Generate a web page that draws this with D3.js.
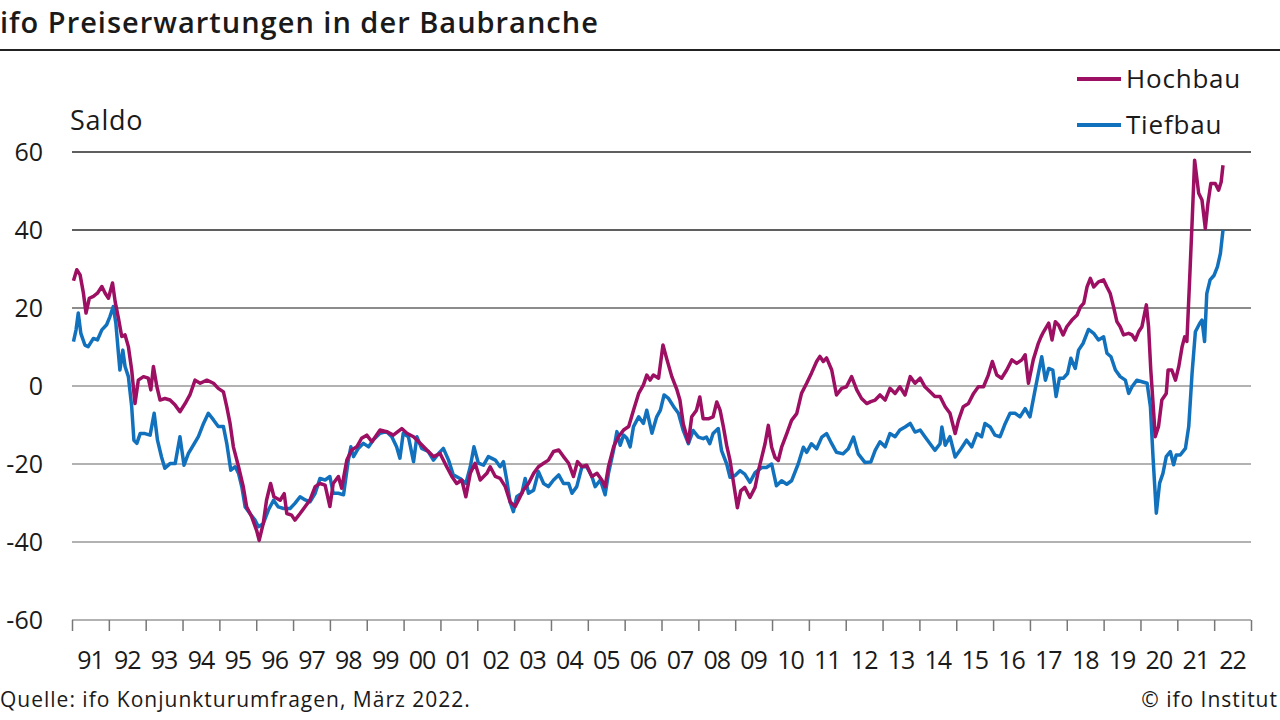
<!DOCTYPE html>
<html lang="de">
<head>
<meta charset="utf-8">
<title>ifo Preiserwartungen in der Baubranche</title>
<script src="https://cdn.jsdelivr.net/npm/d3@7"></script>
<style>
    html, body { margin: 0; padding: 0; background: #fff; }
    svg { display: block; font-family: 'Open Sans', 'Noto Sans', sans-serif; }
</style>
</head>
<body>
<svg id="chart" width="1280" height="720"></svg>
<script>
// Saldo values, decimal years
const hochYears = [
    1991.04, 1991.13, 1991.22, 1991.31, 1991.38, 1991.47, 1991.58, 1991.69, 1991.81, 1991.90, 1991.99,
    1992.10, 1992.17, 1992.26, 1992.35, 1992.44, 1992.53, 1992.62, 1992.71, 1992.80, 1992.94,
    1993.07, 1993.14, 1993.21, 1993.30, 1993.39, 1993.52, 1993.66, 1993.80, 1993.93,
    1994.07, 1994.20, 1994.34, 1994.48, 1994.66, 1994.84, 1994.97,
    1995.11, 1995.20, 1995.29, 1995.38, 1995.52, 1995.65, 1995.74, 1995.88,
    1996.01, 1996.08, 1996.19, 1996.28, 1996.39, 1996.48, 1996.65, 1996.76, 1996.83, 1996.96,
    1997.05, 1997.19, 1997.33, 1997.46, 1997.60, 1997.73, 1997.87,
    1998.00, 1998.09, 1998.23, 1998.32, 1998.46, 1998.59, 1998.73, 1998.86,
    1999.00, 1999.14, 1999.36, 1999.54, 1999.72, 1999.95,
    2000.09, 2000.27, 2000.45, 2000.63, 2000.81, 2000.99,
    2001.17, 2001.31, 2001.44, 2001.58, 2001.69, 2001.81, 2001.94,
    2002.08, 2002.26, 2002.35, 2002.49, 2002.62, 2002.76, 2002.89,
    2003.03, 2003.12, 2003.25, 2003.39, 2003.53, 2003.66, 2003.80, 2003.93,
    2004.07, 2004.21, 2004.34, 2004.48, 2004.61, 2004.72, 2004.84, 2004.97,
    2005.11, 2005.25, 2005.38, 2005.47, 2005.56, 2005.70, 2005.83, 2005.97,
    2006.11, 2006.24, 2006.38, 2006.51, 2006.60, 2006.69, 2006.78, 2006.92,
    2007.04, 2007.15, 2007.28, 2007.42, 2007.50, 2007.59, 2007.73, 2007.82, 2007.95,
    2008.04, 2008.13, 2008.27, 2008.40, 2008.50, 2008.59, 2008.68, 2008.77, 2008.86, 2008.95,
    2009.06, 2009.15, 2009.26, 2009.40, 2009.54, 2009.63, 2009.72, 2009.81, 2009.90, 2009.99,
    2010.08, 2010.17, 2010.26, 2010.40, 2010.53, 2010.67, 2010.80, 2010.94,
    2011.07, 2011.21, 2011.30, 2011.39, 2011.48, 2011.62, 2011.75, 2011.89,
    2012.02, 2012.16, 2012.30, 2012.43, 2012.57, 2012.68, 2012.80, 2012.93,
    2013.07, 2013.20, 2013.34, 2013.47, 2013.61, 2013.75, 2013.88,
    2014.02, 2014.15, 2014.29, 2014.42, 2014.56, 2014.70, 2014.83, 2014.97,
    2015.06, 2015.19, 2015.33, 2015.47, 2015.60, 2015.74, 2015.87, 2015.98,
    2016.10, 2016.23, 2016.37, 2016.51, 2016.64, 2016.78, 2016.87, 2016.96,
    2017.09, 2017.23, 2017.30, 2017.37, 2017.51, 2017.60, 2017.69, 2017.78, 2017.90,
    2018.00, 2018.14, 2018.28, 2018.37, 2018.46, 2018.55, 2018.64, 2018.73, 2018.86,
    2019.00, 2019.09, 2019.18, 2019.27, 2019.36, 2019.45, 2019.54, 2019.68, 2019.77, 2019.86, 2019.95,
    2020.04, 2020.16, 2020.22, 2020.28, 2020.36, 2020.40, 2020.49, 2020.58, 2020.70, 2020.75, 2020.85, 2020.95,
    2021.04, 2021.13, 2021.20, 2021.26, 2021.33, 2021.40, 2021.47, 2021.58, 2021.67, 2021.76, 2021.83, 2021.91,
    2022.03, 2022.12, 2022.19, 2022.24
]
const hochValues = [
    27, 29.8, 28.5, 23.8, 18.7, 22.5, 23, 23.8, 25.5, 23.8, 22.5,
    26.4, 21.7, 17.4, 12.7, 13.1, 10.1, 4.1, -4.5, 1.5, 2.4,
    2, -1, 5, 0, -3.6, -3.2, -3.6, -4.9, -6.6,
    -4.5, -2.3, 1.5, 0.7, 1.5, 0.7, -0.6,
    -1.5, -5.3, -9.6, -15.6, -20.7, -25.9, -31, -33.6,
    -37, -39.6, -35.3, -29.3, -25, -28.4, -29.3, -27.6, -32.7, -33.1,
    -34.4, -32.7, -30.9, -29.2, -25.8, -25, -25.4,
    -30.9, -25, -23.2, -26.2, -19, -16.4, -15.6, -13.4,
    -12.6, -14.3, -11.3, -11.7, -12.6, -10.9,
    -12.1, -13, -14.7, -16.4, -18.1, -17.3,
    -20.7, -23.2, -25, -24.1, -28.4, -22.4, -19.8,
    -24.1, -22.4, -20.7, -23.2, -23.7, -25.8, -29.7,
    -30.9, -29.2, -26.7, -25, -22.4, -20.7, -19.8, -19,
    -16.8, -16.4, -18.1, -19.8, -23.2, -19.4, -20.7, -20.3,
    -23.2, -22.4, -24.1, -25.8, -20.7, -15.6, -13, -11.3,
    -10.4, -6.2, -1.9, 0.3, 2.8, 1.5, 2.8, 2,
    10.5, 6.7, 2.4, -1, -3.6, -9.7, -14.4, -7.9, -6.2,
    -2.8, -8.4, -8.4, -7.9, -4.1, -6.2, -10.5, -15.3, -19.1, -24.5,
    -31.2, -26.9, -26, -28.6, -26, -21.7, -18.3, -14.8, -10.1, -15.7,
    -18.3, -19.1, -15.7, -12.2, -8.8, -7.1, -1.9, 0.7,
    3.3, 6.3, 7.6, 6.3, 7.2, 4.1, -2.3, -0.6,
    -0.2, 2.4, -1, -3.2, -4.5, -4, -3.6, -2.3,
    -3.6, -0.6, -1.9, -0.2, -2.3, 2.4, 0.7,
    2, -0.2, -1.5, -2.7, -2.7, -5.3, -7, -12.2,
    -8.8, -5.3, -4.5, -1.9, -0.2, -0.2, 2.8, 6.3,
    2.8, 2, 4.1, 6.7, 5.8, 6.7, 8, 0.7,
    6.7, 11, 12.6, 13.9, 16.1, 11.8, 16.5, 15.6, 13.1,
    15.2, 16.9, 18.2, 20.3, 21.2, 25.4, 27.6, 25.4, 26.7,
    27.2, 25.4, 23.7, 20.3, 16.5, 15.2, 13.1, 13.5, 13.1, 11.8, 13.9,
    15.2, 20.8, 15.2, 4.1, -7, -13, -10.4, -3.6, -1.9, 4.1, 4.1, 1.5,
    5, 10.1, 12.6, 11.4, 26.3, 41.7, 57.9, 49.4, 47.7, 40.4, 46.8, 51.9,
    51.9, 50.2, 52.3, 56.6
]

const tiefYears = [
    1991.04, 1991.11, 1991.17, 1991.24, 1991.35, 1991.44, 1991.58, 1991.69, 1991.81, 1991.94,
    1992.03, 1992.12, 1992.19, 1992.26, 1992.30, 1992.38, 1992.44, 1992.53, 1992.62, 1992.68, 1992.76, 1992.85, 1992.98,
    1993.12, 1993.23, 1993.32, 1993.43, 1993.52, 1993.66, 1993.80, 1993.93,
    1994.04, 1994.16, 1994.29, 1994.43, 1994.57, 1994.70, 1994.84, 1994.97,
    1995.11, 1995.20, 1995.31, 1995.43, 1995.52, 1995.61, 1995.70, 1995.83, 1995.97,
    1996.06, 1996.19, 1996.33, 1996.47, 1996.60, 1996.74, 1996.92,
    1997.05, 1997.19, 1997.33, 1997.46, 1997.60, 1997.73, 1997.87,
    1998.00, 1998.09, 1998.23, 1998.37, 1998.50, 1998.57, 1998.64, 1998.77, 1998.91,
    1999.05, 1999.18, 1999.36, 1999.54, 1999.68, 1999.81, 1999.90, 1999.99,
    2000.13, 2000.27, 2000.36, 2000.49, 2000.67, 2000.81, 2000.95,
    2001.08, 2001.22, 2001.35, 2001.53, 2001.69, 2001.81, 2001.91,
    2002.03, 2002.17, 2002.30, 2002.49, 2002.62, 2002.71, 2002.80, 2002.89, 2002.98,
    2003.07, 2003.21, 2003.30, 2003.39, 2003.53, 2003.66, 2003.80, 2003.93,
    2004.07, 2004.21, 2004.34, 2004.48, 2004.57, 2004.70, 2004.84, 2004.97,
    2005.11, 2005.20, 2005.34, 2005.47, 2005.56, 2005.70, 2005.79, 2005.88, 2005.97,
    2006.06, 2006.15, 2006.24, 2006.38, 2006.51, 2006.60, 2006.74, 2006.87, 2006.97,
    2007.07, 2007.19, 2007.33, 2007.46, 2007.59, 2007.73, 2007.86,
    2008.00, 2008.13, 2008.22, 2008.31, 2008.40, 2008.54, 2008.63, 2008.77, 2008.86, 2008.99,
    2009.13, 2009.26, 2009.40, 2009.54, 2009.72, 2009.85, 2009.99,
    2010.12, 2010.26, 2010.40, 2010.53, 2010.71, 2010.85, 2010.94,
    2011.07, 2011.21, 2011.35, 2011.48, 2011.62, 2011.75, 2011.93,
    2012.07, 2012.21, 2012.34, 2012.52, 2012.68, 2012.80, 2012.93,
    2013.07, 2013.20, 2013.34, 2013.47, 2013.61, 2013.75, 2013.88,
    2014.02, 2014.15, 2014.29, 2014.42, 2014.56, 2014.61, 2014.70, 2014.83, 2014.97,
    2015.10, 2015.28, 2015.42, 2015.56, 2015.69, 2015.78, 2015.92,
    2016.05, 2016.19, 2016.33, 2016.46, 2016.60, 2016.73, 2016.87,
    2017.00, 2017.14, 2017.23, 2017.32, 2017.42, 2017.51, 2017.62, 2017.71, 2017.80, 2017.91,
    2018.02, 2018.11, 2018.23, 2018.32, 2018.44, 2018.59, 2018.73, 2018.86,
    2019.00, 2019.09, 2019.20, 2019.32, 2019.45, 2019.59, 2019.68, 2019.77, 2019.90,
    2020.04, 2020.18, 2020.27, 2020.34, 2020.43, 2020.52, 2020.61, 2020.70, 2020.81, 2020.90, 2020.97,
    2021.08, 2021.22, 2021.31, 2021.40, 2021.49, 2021.61, 2021.67, 2021.74, 2021.80, 2021.89,
    2022.00, 2022.09, 2022.17, 2022.24
]
const tiefValues = [
    11.4, 14.4, 18.7, 13.5, 10.5, 10.1, 12.2, 11.8, 14.4, 15.7,
    17.8, 20.4, 16.1, 8.4, 4.1, 9.2, 5, 2.4, -5.3, -13.9, -14.7, -12.2, -12.2,
    -12.6, -7, -13.9, -18.2, -21.1, -19.9, -19.9, -13,
    -20.3, -17.3, -15.2, -13, -9.6, -7, -8.7, -10.4,
    -10.4, -14.7, -21.6, -20.7, -22.4, -25.9, -31, -32.7, -34.4,
    -36.1, -35.3, -31.8, -29.3, -31, -31.4, -31.4,
    -30.1, -28.4, -29.2, -29.7, -27.5, -23.7, -24.1,
    -23.2, -27.5, -27.5, -27.9, -19, -15.6, -18.1, -16, -14.7,
    -15.6, -13.8, -12.1, -11.7, -13, -15.6, -18.5, -12.1,
    -13, -19.4, -13, -16, -16.8, -19, -17.3,
    -16, -19, -22.8, -23.7, -25, -20.7, -15.6,
    -19.8, -20.3, -18.1, -19, -20.7, -19.4, -24.1, -29.7, -32.2,
    -28.4, -27.5, -23.7, -27.5, -26.7, -22, -25, -25.8,
    -24.1, -22.8, -25, -25, -27.5, -25.8, -20.7, -20.7,
    -23.2, -25.8, -24.1, -27.9, -22.4, -16.4, -11.7, -15.2, -12.6,
    -13.4, -15.6, -10.4, -7.9, -9.6, -6.2, -12.1, -7.9, -6.2,
    -2.3, -3.2, -5.3, -7, -11.4, -14.8, -11.4,
    -13.1, -13.5, -13.1, -14.8, -12.2, -10.9, -16.6, -20, -23.4, -23,
    -21.7, -22.6, -24.7, -22.2, -20.9, -20.9, -20,
    -25.6, -24.3, -25.2, -24.3, -20, -15.7, -17,
    -14.8, -16.1, -13.1, -12.2, -14.8, -17, -17.4,
    -16.1, -13.1, -17.4, -19.6, -19.5, -16.5, -14.3,
    -15.6, -12.2, -13, -11.3, -10.5, -9.6, -11.8,
    -11.3, -13, -14.8, -16.5, -14.8, -10.5, -15.2, -13, -18.2,
    -16.5, -13.9, -15.6, -12.2, -13, -9.6, -10.5,
    -12.6, -13, -9.6, -7, -7, -7.9, -5.8,
    -7.9, -1, 3.3, 7.5, 1.5, 4.5, 4.1, -2.7, 2, 2,
    3.2, 7.1, 4.5, 9.2, 10.9, 14.5, 13.5, 11.8,
    12.6, 8.4, 7.5, 4.1, 2.4, 1.5, -1.9, -0.2, 1.5,
    1.1, 0.7, -5.3, -18.1, -32.6, -24.9, -22.4, -18.1, -16.8, -20.2, -17.7,
    -17.7, -16, -10.4, 3.2, 13.9, 16.1, 16.9, 11.4, 23.7, 27.2,
    28.4, 30.6, 34, 40
]

const yearTicks = d3.range(1991, 2024)
const yearLabels = ['91', '92', '93', '94', '95', '96', '97', '98', '99', '00', '01', '02', '03', '04', '05', '06',
    '07', '08', '09', '10', '11', '12', '13', '14', '15', '16', '17', '18', '19', '20', '21', '22']
const valueTicks = [-60, -40, -20, 0, 20, 40, 60]

const colours = {
    hochbau: '#9c0f62',
    tiefbau: '#1271bd',
    text: '#1a1a1a'
}

const svg = d3.select('#chart')

const margin = { left: 72, right: 1251, top: 152, bottom: 620 }

const x = d3.scaleLinear()
    .domain([1991, 2023])
    .range([margin.left, margin.right])

const y = d3.scaleLinear()
    .domain([-60, 60])
    .range([margin.bottom, margin.top])

// title and rule
svg.append('text')
    .attr('x', 0)
    .attr('y', 33)
    .attr('fill', colours.text)
    .style('font-size', '29px')
    .style('font-weight', 600)
    .style('letter-spacing', '1px')
    .text('ifo Preiserwartungen in der Baubranche')

svg.append('line')
    .attr('x1', 0)
    .attr('x2', 1280)
    .attr('y1', 50)
    .attr('y2', 50)
    .attr('stroke', '#222')
    .attr('stroke-width', 2)

svg.append('text')
    .attr('x', 70)
    .attr('y', 130)
    .attr('fill', colours.text)
    .style('font-size', '27px')
    .style('letter-spacing', '0.8px')
    .text('Saldo')

// horizontal grid
const gridColour = v => v >= 40 ? '#2a2a2a' : (v === 20 ? '#666' : '#999')

svg.append('g')
    .selectAll('line')
    .data(valueTicks)
    .join('line')
    .attr('x1', margin.left)
    .attr('x2', margin.right)
    .attr('y1', d => y(d))
    .attr('y2', d => y(d))
    .attr('stroke', d => gridColour(d))
    .attr('stroke-width', 1.5)

svg.append('g')
    .selectAll('text')
    .data(valueTicks)
    .join('text')
    .attr('x', 43)
    .attr('y', d => y(d))
    .attr('dy', '0.35em')
    .attr('fill', colours.text)
    .style('font-size', '25px')
    .style('text-anchor', 'end')
    .text(d => d)

// x axis ticks at the year boundaries
const xAxis = d3.axisBottom(x)
    .tickValues(yearTicks)
    .tickSize(11)
    .tickFormat('')

svg.append('g')
    .attr('transform', `translate(0,${margin.bottom})`)
    .call(xAxis)
    .call(g => g.select('.domain').remove())
    .call(g => g.selectAll('.tick line').attr('stroke', '#777').attr('stroke-width', 1.5))

svg.append('g')
    .selectAll('text')
    .data(yearLabels)
    .join('text')
    .attr('x', (d, i) => x(1991 + i + 0.5))
    .attr('y', 669)
    .attr('fill', colours.text)
    .style('font-size', '25px')
    .style('letter-spacing', '-1px')
    .style('text-anchor', 'middle')
    .text(d => d)

// series
const line = d3.line()
    .x(d => x(d[0]))
    .y(d => y(d[1]))

const series = [
    { name: 'Hochbau', colour: colours.hochbau, points: d3.zip(hochYears, hochValues) },
    { name: 'Tiefbau', colour: colours.tiefbau, points: d3.zip(tiefYears, tiefValues) }
]

svg.append('g')
    .selectAll('path')
    .data(series.slice().reverse())
    .join('path')
    .attr('d', d => line(d.points))
    .attr('fill', 'none')
    .attr('stroke', d => d.colour)
    .attr('stroke-width', 3.5)
    .attr('stroke-linejoin', 'round')

// legend
const legend = svg.append('g')
    .selectAll('g')
    .data(series)
    .join('g')
    .attr('transform', (d, i) => `translate(1077,${79 + i * 46})`)

legend.append('line')
    .attr('x1', 0)
    .attr('x2', 44)
    .attr('stroke', d => d.colour)
    .attr('stroke-width', 4)

legend.append('text')
    .attr('x', 49)
    .attr('y', 9)
    .attr('fill', colours.text)
    .style('font-size', '26px')
    .style('letter-spacing', '0.8px')
    .text(d => d.name)

// footer
svg.append('text')
    .attr('x', 0)
    .attr('y', 707)
    .attr('fill', colours.text)
    .style('font-size', '21px')
    .style('letter-spacing', '1px')
    .text('Quelle: ifo Konjunkturumfragen, März 2022.')

svg.append('text')
    .attr('x', 1278)
    .attr('y', 707)
    .attr('fill', colours.text)
    .style('font-size', '21px')
    .style('letter-spacing', '1px')
    .style('text-anchor', 'end')
    .text('© ifo Institut')
</script>
</body>
</html>
